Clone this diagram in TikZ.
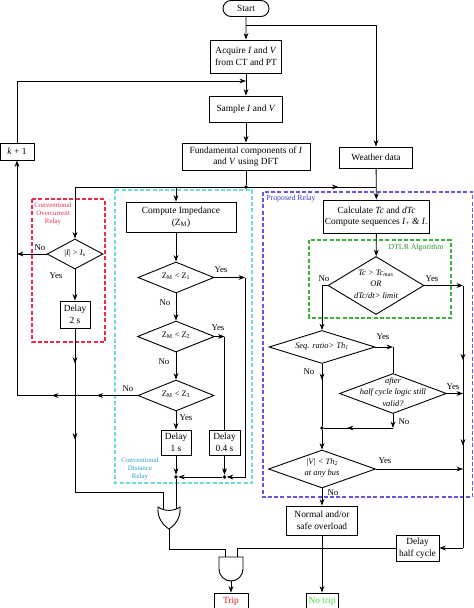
\documentclass[tikz,border=0pt]{standalone}
\usepackage{fontspec}
\setmainfont{Liberation Serif}
\usetikzlibrary{shapes.geometric,shapes.misc,arrows.meta,decorations.markings}
\definecolor{ocred}{HTML}{EE2A48}
\definecolor{cdcyan}{HTML}{6FDCD8}
\definecolor{cdtext}{HTML}{2E9AD0}
\definecolor{prblue}{HTML}{6455E8}
\definecolor{prtext}{HTML}{3A3AD0}
\definecolor{dtgreen}{HTML}{3CB43C}
\definecolor{dttext}{HTML}{2E962E}
\definecolor{tripred}{HTML}{E8141E}
\definecolor{notripgreen}{HTML}{44E044}
\newcommand{\dtext}[1]{\raisebox{-1.5pt}{\smash{\makebox[0pt]{\begin{tabular}{@{}c@{}}#1\end{tabular}}}}}
\begin{document}
\begin{tikzpicture}[x=1pt,y=-1pt,
  line width=0.8pt,
  >={Stealth[length=6.5pt,width=4.8pt]},
  every node/.style={font=\fontsize{9.4}{11.5}\selectfont},
  box/.style={draw,rectangle,align=center,inner sep=1pt,line width=0.9pt},
  dia/.style={draw,diamond,inner sep=0pt,line width=0.9pt,font=\fontsize{8.4}{11.5}\selectfont},
  lbl/.style={font=\fontsize{8.8}{10}\selectfont,inner sep=0pt},
  rel/.style={font=\fontsize{6.9}{8.2}\selectfont,align=center,inner sep=0pt},
  dot/.style={circle,fill,inner sep=0pt,minimum size=3.8pt},
  midarr/.style={postaction={decorate},decoration={markings,mark=at position #1 with {\arrow{>}}}},
  twoarr/.style 2 args={postaction={decorate},decoration={markings,mark=at position #1 with {\arrow{>}},mark=at position #2 with {\arrow{>}}}},
  relbox/.style={line width=1.05pt,dash pattern=on 4pt off 2.2pt},
]
\useasboundingbox (0,0) rectangle (474,608);

% ---- relay frames
\draw[relbox,draw=ocred] (32,199) rectangle (105,342);
\draw[relbox,draw=cdcyan] (115,190) rectangle (252,483);
\draw[relbox,draw=prblue] (263,192) rectangle (472.5,497);
\draw[relbox,draw=dtgreen] (309,240) rectangle (451,318);
\node[rel,text=ocred] (lOC) at (53,214) {Conventional\\Overcurrent\\Relay};
\node[rel,text=cdtext] (lCD) at (140,469) {Conventional\\Distance\\Relay};
\node[rel,text=prtext,font=\fontsize{7.8}{9}\selectfont,anchor=west] (lPR) at (266,199) {Proposed Relay};
\node[rel,text=dttext,font=\fontsize{7.8}{9}\selectfont] (lDT) at (416,248) {DTLR Algorithm};

% ---- main chain
\node[draw,rounded rectangle,line width=0.9pt,minimum width=48pt,minimum height=16pt,inner sep=1pt] (start) at (246,8.5) {Start};
\node[box,minimum width=71pt,minimum height=33pt] (acq) at (246,56.5) {Acquire \textit{I} and \textit{V}\\from CT and PT};
\node[box,minimum width=73pt,minimum height=26pt] (sample) at (246,109) {Sample \textit{I} and \textit{V}};
\node[box,minimum width=128pt,minimum height=27pt] (fund) at (246,156.5) {Fundamental components of \textit{I}\\and \textit{V} using DFT};
\node[box,minimum width=73pt,minimum height=21pt] (weather) at (376,157.5) {Weather data};
\node[box,minimum width=34pt,minimum height=17pt] (kp) at (17,151.5) {\textit{k} + 1};

% ---- overcurrent relay
\node[dia,minimum width=56pt,minimum height=30pt] (oc) at (75,254) {\dtext{|\textit{I}| > \textit{I}\textsubscript{s}}};
\node[box,minimum width=30pt,minimum height=27pt] (d2) at (75,314.5) {Delay\\2 s};

% ---- distance relay
\node[box,minimum width=110pt,minimum height=30pt] (compute) at (181,217) {Compute Impedance\\(Z\textsubscript{M})};
\node[dia,minimum width=76pt,minimum height=31pt] (z1) at (176,277.5) {\dtext{Z\textsubscript{M} < Z\textsubscript{1}}};
\node[dia,minimum width=77pt,minimum height=31pt] (z2) at (176,336.5) {\dtext{Z\textsubscript{M} < Z\textsubscript{2}}};
\node[dia,minimum width=76pt,minimum height=31pt] (z3) at (176,395.5) {\dtext{Z\textsubscript{M} < Z\textsubscript{3}}};
\node[box,minimum width=30pt,minimum height=25pt] (d1) at (176,442.5) {Delay\\1 s};
\node[box,minimum width=31pt,minimum height=25pt] (d04) at (224.5,442.5) {Delay\\0.4 s};
\node[dot] (j1) at (176,477) {};
\node[dot] (j04) at (224.5,477) {};

% ---- proposed relay
\node[box,minimum width=105pt,minimum height=33pt] (calc) at (376.5,216.5) {Calculate \textit{Tc} and \textit{dTc}\\Compute sequences \textit{I}\textsubscript{+} \textit{\&} \textit{I}\textsubscript{-}};
\node[dia,minimum width=96pt,minimum height=58pt] (dtlr) at (376,285.5) {\dtext{\itshape Tc > Tc\textsubscript{max}\\\itshape OR\\\itshape dTc/dt> limit}};
\node[dia,minimum width=106pt,minimum height=33pt] (seq) at (322,347) {\dtext{\itshape Seq. ratio> Th\textsubscript{1}}};
\node[dia,minimum width=107pt,minimum height=40pt] (half) at (393,393.5) {\dtext{\itshape after\\\itshape half cycle logic still\\\itshape valid?}};
\node[dot] (jV) at (322,428) {};
\node[dia,minimum width=107pt,minimum height=38pt] (volt) at (322,469) {\dtext{\itshape |V| < Th\textsubscript{2}\\\itshape at any bus}};
\node[box,minimum width=71pt,minimum height=29pt] (normal) at (322,520.5) {Normal and/or\\safe overload};
\node[box,minimum width=43pt,minimum height=26pt] (dhalf) at (417.5,548) {Delay\\half cycle};
\node[box,minimum width=34pt,minimum height=16pt,text=tripred] (trip) at (231,601) {Trip};
\node[box,minimum width=32pt,minimum height=16pt,text=notripgreen] (notrip) at (322,601) {No trip};

% ---- gates
\draw[line width=0.9pt] (158,507) .. controls (164,511.5) and (174,511.5) .. (180,507)
  .. controls (181,518) and (175,525) .. (169,529)
  .. controls (163,525) and (157,518) .. (158,507) -- cycle;
\draw[line width=0.9pt] (219,557) -- (243,557) -- (243,569)
  .. controls (243,575.6) and (237.6,581) .. (231,581)
  .. controls (224.4,581) and (219,575.6) .. (219,569) -- cycle;
\coordinate (orA) at (163,509.5);
\coordinate (orB) at (176,509.2);
\coordinate (orO) at (169,529);
\coordinate (andA) at (225,557);
\coordinate (andB) at (237,557);
\coordinate (andO) at (231,581);

% ---- connectors: main chain
\coordinate (jS) at (246,25);
\coordinate (wT) at (376,25);
\coordinate (jK) at (246,81);
\coordinate (kT) at (17,81);
\node[dot] (jF) at (246,187) {};
\coordinate (jOC) at (75,187);
\coordinate (jD) at (176,187);
\coordinate (jW) at (376,187);
\draw[->] (start) -- (acq);
\draw[->] (jS) -- (wT) -- (weather);
\draw[->] (acq) -- (sample);
\draw[->] (kp.north) -- (kT) -- (jK);
\draw[->] (sample) -- (fund);
\draw (fund) -- (jF);
\draw[midarr=0.875] (jOC) -- (jW);
\draw[->] (weather) -- (calc);
\draw[->] (jOC) -- (oc);
\draw[->] (jD) -- (jD |- compute.north);

% ---- overcurrent connectors
\coordinate (ocL) at (17,254);
\coordinate (ocB) at (75,492);
\coordinate (ocC) at (163,492);
\draw[->] (oc.west) -- (ocL);
\draw[->] (oc.south) -- (d2.north);
\draw[twoarr={0.215}{0.68}] (d2.south) -- (ocB);
\draw (ocB) -- (ocC) -- (orA);
\node[lbl] (ocNo) at (40,248) {No};
\node[lbl] (ocYes) at (56,276) {Yes};

% ---- distance connectors
\coordinate (z1R) at (245,277.5);
\coordinate (z1D) at (245,477);
\coordinate (z2R) at (224.5,336.5);
\coordinate (z3L) at (17,395.5);
\draw[->] (compute.south -| z1) -- (z1.north);
\draw[->] (z1) -- (z2);
\draw[->] (z1.east) -- (z1R);
\draw[->] (z1R) -- (z1D) -- (j04);
\draw[->] (j04) -- (j1);
\draw[->] (z2.east) -- (z2R);
\draw (z2R) -- (d04.north);
\draw[->] (z2) -- (z3);
\draw[twoarr={0.34}{0.71}] (z3.west) -- (z3L);
\draw[->] (z3L) -- (kp.south);
\draw[->] (z3) -- (d1);
\draw[->] (d1) -- (j1);
\draw[->] (d04) -- (j04);
\draw (j1) -- (orB);
\coordinate (o1) at (169,549);
\coordinate (o2) at (225,549);
\draw (orO) -- (o1) -- (o2) -- (andA);
\node[lbl] (z1Yes) at (221,270) {Yes};
\node[lbl] (z1No) at (165,303) {No};
\node[lbl] (z2Yes) at (218,328) {Yes};
\node[lbl] (z2No) at (164,362) {No};
\node[lbl] (z3No) at (128,389) {No};
\node[lbl] (z3Yes) at (186,418) {Yes};

% ---- proposed connectors
\coordinate (dL) at (322,285.5);
\coordinate (dR) at (463,285.5);
\coordinate (rD) at (463,548);
\coordinate (sR) at (393,347);
\coordinate (hR) at (463,393.5);
\coordinate (hD) at (393,428);
\coordinate (vR) at (463,469);
\coordinate (hl) at (237,548);
\draw[->] (calc) -- (dtlr);
\draw[->] (dtlr.west) -- (dL) -- (seq.north);
\draw[->] (dtlr.east) -- (dR);
\draw[twoarr={0.285}{0.61}] (dR) -- (rD);
\draw[->] (rD) -- (dhalf.east);
\draw[->] (seq.east) -- (sR);
\draw (sR) -- (half.north);
\draw[midarr=0.26] (seq.south) -- (jV);
\draw[->] (jV) -- (volt.north);
\draw[->] (half.east) -- (hR);
\draw[->] (half.south) -- (hD);
\draw[midarr=0.67] (hD) -- (jV);
\draw[->] (volt.east) -- (vR);
\draw[->] (volt) -- (normal);
\draw[->] (normal) -- (notrip);
\draw (dhalf.west) -- (hl) -- (andB);
\draw[->] (andO) -- (trip);
\node[lbl] (dNo) at (324,279) {No};
\node[lbl] (dYes) at (432,279) {Yes};
\node[lbl] (sYes) at (383,337) {Yes};
\node[lbl] (sNo) at (309,372) {No};
\node[lbl] (hYes) at (453,387) {Yes};
\node[lbl] (hNo) at (404,422) {No};
\node[lbl] (vYes) at (385,461) {Yes};
\node[lbl] (vNo) at (333,493) {No};
\end{tikzpicture}
\end{document}
